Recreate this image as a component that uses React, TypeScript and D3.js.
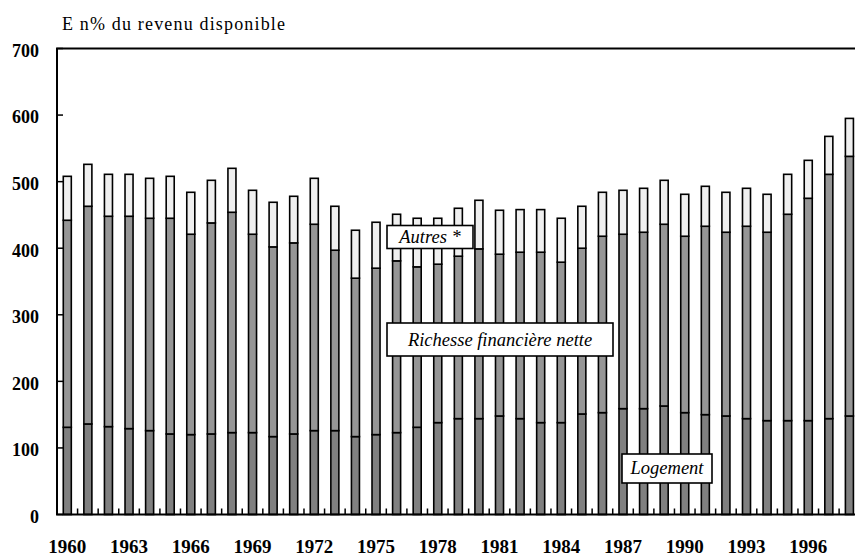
import React from "react";
import * as d3 from "d3";

const years: number[] = d3.range(1960, 1999);
// Logement (bottom segment)
const logement: number[] = [131, 136, 132, 129, 126, 121, 120, 121, 123, 123, 117, 121, 126, 126, 117, 120, 123, 131, 138, 144, 144, 148, 144, 138, 138, 151, 153, 159, 159, 163, 153, 150, 148, 144, 141, 141, 141, 144, 148];
// Logement + Richesse financière nette (cumulative)
const cumRichesse: number[] = [442, 463, 448, 448, 445, 445, 421, 438, 454, 421, 402, 408, 436, 397, 355, 370, 381, 372, 376, 388, 399, 391, 394, 394, 379, 400, 418, 421, 424, 436, 418, 433, 424, 433, 424, 451, 475, 511, 538];
// Total (cumulative incl. Autres)
const total: number[] = [508, 526, 511, 511, 505, 508, 484, 502, 520, 487, 469, 478, 505, 463, 427, 439, 451, 445, 445, 460, 472, 457, 458, 458, 445, 463, 484, 487, 490, 502, 481, 493, 484, 490, 481, 511, 532, 568, 595];

const richesse: number[] = cumRichesse.map((v, i) => v - logement[i]);
const autres: number[] = total.map((v, i) => v - cumRichesse[i]);

const yTicks: number[] = [0, 100, 200, 300, 400, 500, 600, 700];
const xLabelYears: number[] = [1960, 1963, 1966, 1969, 1972, 1975, 1978, 1981, 1984, 1987, 1990, 1993, 1996];
const seriesKeys = ["logement", "richesse", "autres"];
const seriesColors: Record<string, string> = { logement: "#808080", richesse: "#969696", autres: "#efefef" };

const W = 855;
const H = 556;
const left = 57;
const top = 48.5;
const bottom = 514.5;
const rightEdge = 855;

export default function App() {
  const x = d3.scaleBand<number>().domain(years).range([left, 859.7]).paddingInner(0.61).paddingOuter(0.305);
  const step = x.step();
  const y = d3.scaleLinear().domain([0, 700]).range([bottom, top]);

  const rows = years.map((yr, i) => ({ year: yr, logement: logement[i], richesse: richesse[i], autres: autres[i] }));
  const stack = d3.stack<any>().keys(seriesKeys);
  const layers = stack(rows);

  const serif = "'Liberation Serif', 'Times New Roman', serif";

  return (
    <svg width={W} height={H} style={{ position: "absolute", left: 0, top: 0, background: "#fff" }}>
      <text x={62} y={30} fontFamily={serif} fontSize={18} textLength={223} lengthAdjust="spacing" fill="#000">E n% du revenu disponible</text>

      {layers.map((layer) => (
        <g key={layer.key}>
          {layer.map((d, i) => (
            <rect
              key={i}
              x={x(years[i])!}
              y={y(d[1])}
              width={x.bandwidth()}
              height={y(d[0]) - y(d[1])}
              fill={seriesColors[layer.key]}
              stroke="#000"
              strokeWidth={1.6}
            />
          ))}
        </g>
      ))}

      {/* x ticks between bars */}
      {years.map((yr) => (
        <line key={yr} x1={x(yr)! - (step - x.bandwidth()) / 2} x2={x(yr)! - (step - x.bandwidth()) / 2} y1={bottom} y2={bottom - 6} stroke="#000" strokeWidth={1.5} />
      ))}

      {/* y ticks inward */}
      {yTicks.map((t) => (
        <line key={t} x1={left} x2={left + 6} y1={y(t)} y2={y(t)} stroke="#000" strokeWidth={1.5} />
      ))}

      {/* axes / frame lines */}
      <line x1={left} x2={left} y1={top} y2={bottom} stroke="#000" strokeWidth={2} />
      <line x1={left - 1} x2={rightEdge} y1={top} y2={top} stroke="#000" strokeWidth={2} />
      <line x1={left - 1} x2={rightEdge} y1={bottom} y2={bottom} stroke="#000" strokeWidth={2} />

      {yTicks.map((t) => (
        <text key={t} x={39} y={y(t) + 8.3} textAnchor="end" fontFamily={serif} fontWeight="bold" fontSize={18} fill="#000">{t}</text>
      ))}

      {xLabelYears.map((yr) => (
        <text key={yr} x={x(yr)! + x.bandwidth() / 2} y={553} textAnchor="middle" fontFamily={serif} fontWeight="bold" fontSize={19} fill="#000">{yr}</text>
      ))}

      {/* annotation boxes */}
      <rect x={387} y={225.5} width={86} height={23} fill="#fff" stroke="#000" strokeWidth={1.6} />
      <text x={430} y={243} textAnchor="middle" fontFamily={serif} fontStyle="italic" fontSize={18.5} fill="#000">Autres *</text>

      <rect x={387} y={323} width={226} height={33} fill="#fff" stroke="#000" strokeWidth={1.6} />
      <text x={500} y={345.5} textAnchor="middle" fontFamily={serif} fontStyle="italic" fontSize={18.5} fill="#000">Richesse financière nette</text>

      <rect x={622} y={454} width={90} height={29} fill="#fff" stroke="#000" strokeWidth={1.6} />
      <text x={667} y={474} textAnchor="middle" fontFamily={serif} fontStyle="italic" fontSize={18.5} fill="#000">Logement</text>
    </svg>
  );
}
